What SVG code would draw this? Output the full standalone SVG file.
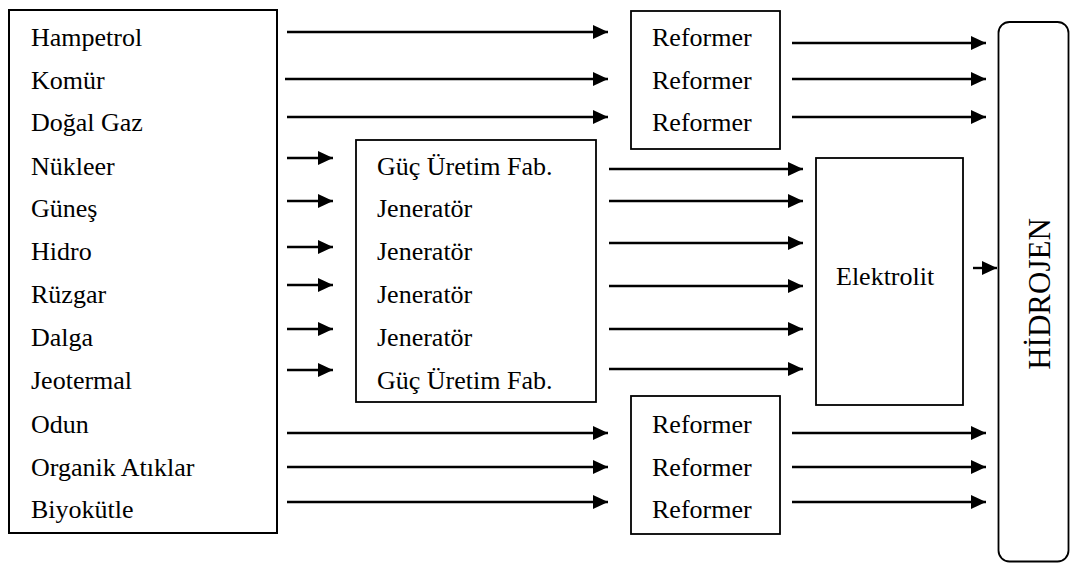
<svg xmlns="http://www.w3.org/2000/svg" width="1070" height="563" viewBox="0 0 1070 563">
<style>
.box{fill:#fff;stroke:#000;stroke-width:1.8}
.t{font-family:"Liberation Serif","Times New Roman",serif;font-size:26px;fill:#000}
.a{stroke:#000;stroke-width:2.4;fill:none;marker-end:url(#ah)}
</style>
<defs>
<marker id="ah" markerUnits="userSpaceOnUse" markerWidth="15" markerHeight="14" refX="15" refY="7" orient="auto">
<path d="M0,0 L15,7 L0,14 Z" fill="#000"/>
</marker>
</defs>
<rect width="1070" height="563" fill="#fff"/>
<g id="sources">
<rect class="box" x="9" y="10" width="268" height="523" style="stroke-width:2"/>
<text class="t" x="31" y="46">Hampetrol</text>
<text class="t" x="31" y="89">Komür</text>
<text class="t" x="31" y="131">Doğal Gaz</text>
<text class="t" x="31" y="175">Nükleer</text>
<text class="t" x="31" y="217">Güneş</text>
<text class="t" x="31" y="260">Hidro</text>
<text class="t" x="31" y="303">Rüzgar</text>
<text class="t" x="31" y="346">Dalga</text>
<text class="t" x="31" y="389">Jeotermal</text>
<text class="t" x="31" y="433">Odun</text>
<text class="t" x="31" y="476">Organik Atıklar</text>
<text class="t" x="31" y="518">Biyokütle</text>
</g>
<g id="reformer-top">
<rect class="box" x="631" y="11" width="149" height="138"/>
<text class="t" x="652" y="46">Reformer</text>
<text class="t" x="652" y="89">Reformer</text>
<text class="t" x="652" y="131">Reformer</text>
</g>
<g id="generators">
<rect class="box" x="356" y="140" width="240" height="262"/>
<text class="t" x="377" y="175">Güç Üretim Fab.</text>
<text class="t" x="377" y="217">Jeneratör</text>
<text class="t" x="377" y="260">Jeneratör</text>
<text class="t" x="377" y="303">Jeneratör</text>
<text class="t" x="377" y="346">Jeneratör</text>
<text class="t" x="377" y="389">Güç Üretim Fab.</text>
</g>
<g id="elektrolit">
<rect class="box" x="816" y="158" width="147" height="247"/>
<text class="t" x="836" y="285">Elektrolit</text>
</g>
<g id="reformer-bottom">
<rect class="box" x="631" y="396" width="149" height="138"/>
<text class="t" x="652" y="433">Reformer</text>
<text class="t" x="652" y="476">Reformer</text>
<text class="t" x="652" y="518">Reformer</text>
</g>
<g id="hidrojen">
<rect class="box" x="998.5" y="22" width="70" height="539.5" rx="11" ry="11"/>
<text class="t" style="font-size:31px" text-anchor="middle" transform="translate(1050,294) rotate(-90)">HİDROJEN</text>
</g>
<g id="connectors">
<line class="a" x1="287" y1="32" x2="608" y2="32"/>
<line class="a" x1="285" y1="79" x2="608" y2="79"/>
<line class="a" x1="287" y1="117" x2="608" y2="117"/>
<line class="a" x1="792" y1="43" x2="986" y2="43"/>
<line class="a" x1="792" y1="79" x2="986" y2="79"/>
<line class="a" x1="792" y1="117" x2="986" y2="117"/>
<line class="a" x1="287" y1="158" x2="333" y2="158"/>
<line class="a" x1="287" y1="201" x2="333" y2="201"/>
<line class="a" x1="287" y1="247" x2="333" y2="247"/>
<line class="a" x1="287" y1="285" x2="333" y2="285"/>
<line class="a" x1="287" y1="329" x2="333" y2="329"/>
<line class="a" x1="287" y1="370" x2="333" y2="370"/>
<line class="a" x1="609" y1="169" x2="803" y2="169"/>
<line class="a" x1="609" y1="201" x2="803" y2="201"/>
<line class="a" x1="609" y1="243" x2="803" y2="243"/>
<line class="a" x1="609" y1="286" x2="803" y2="286"/>
<line class="a" x1="609" y1="329" x2="803" y2="329"/>
<line class="a" x1="609" y1="369" x2="803" y2="369"/>
<line class="a" x1="973" y1="268" x2="997" y2="268"/>
<line class="a" x1="287" y1="433" x2="608" y2="433"/>
<line class="a" x1="287" y1="467" x2="608" y2="467"/>
<line class="a" x1="287" y1="502" x2="608" y2="502"/>
<line class="a" x1="792" y1="433" x2="986" y2="433"/>
<line class="a" x1="792" y1="467" x2="986" y2="467"/>
<line class="a" x1="792" y1="502" x2="986" y2="502"/>
</g>
</svg>
